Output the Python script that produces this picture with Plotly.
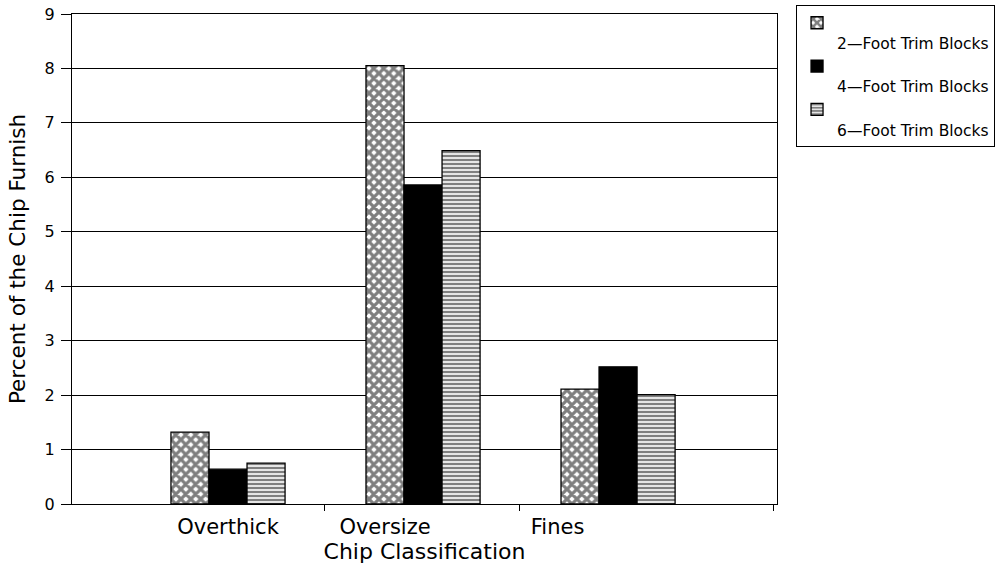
import plotly.graph_objects as go

categories = ["Overthick", "Oversize", "Fines"]
series_names = ["2\u2014Foot Trim Blocks", "4\u2014Foot Trim Blocks", "6\u2014Foot Trim Blocks"]
trim2 = [1.32, 8.05, 2.11]
trim4 = [0.64, 5.86, 2.52]
trim6 = [0.75, 6.49, 2.01]
y_ticks = list(range(0, 10))

x_pos = list(range(len(categories)))
label_pos = [0.0, 0.805, 1.69]

font = "DejaVu Sans"

fig = go.Figure()
styles = [
    dict(color="white", pattern=dict(shape="x", fgcolor="black", bgcolor="white", size=7, solidity=0.7)),
    dict(color="black"),
    dict(color="white", pattern=dict(shape="-", fgcolor="black", bgcolor="white", size=4, solidity=0.6)),
]
for name, vals, st in zip(series_names, [trim2, trim4, trim6], styles):
    fig.add_trace(go.Bar(
        x=x_pos, y=vals, name="<br>" + name,
        marker=dict(line=dict(color="black", width=1.3), **st),
    ))

fig.update_layout(
    width=998, height=567,
    barmode="group", bargap=0.415, bargroupgap=0,
    plot_bgcolor="white", paper_bgcolor="white",
    margin=dict(l=72, r=221, t=14, b=63, autoexpand=False),
    font=dict(family=font, size=16, color="black"),
    showlegend=True,
    legend=dict(
        x=1.027, y=1.018, xanchor="left", yanchor="top",
        bordercolor="black", borderwidth=1, bgcolor="white",
        font=dict(family=font, size=15.5, color="black"),
        valign="top", tracegroupgap=0, itemwidth=30,
    ),
    xaxis=dict(
        range=[-0.8, 2.815], automargin=False,
        tickvals=label_pos, ticktext=categories, ticks="",
        ticklabelstandoff=4,
        showline=True, linecolor="black", linewidth=1.2, mirror=True,
        showgrid=False, zeroline=False,
        minor=dict(tickvals=[0.497, 1.497, 2.795], ticks="outside", ticklen=6,
                   tickcolor="black", tickwidth=1, showgrid=False),
        title=dict(text="Chip Classification", font=dict(family=font, size=22), standoff=4),
        tickfont=dict(family=font, size=21),
    ),
    yaxis=dict(
        range=[0, 9], tickvals=y_ticks, automargin=False,
        ticks="outside", ticklen=10, tickcolor="black", ticklabelstandoff=3,
        showline=True, linecolor="black", linewidth=1.2, mirror=True,
        showgrid=True, gridcolor="black", gridwidth=1.2, zeroline=False,
        title=dict(text="Percent of the Chip Furnish", font=dict(family=font, size=21.5), standoff=12),
        tickfont=dict(family=font, size=16),
    ),
)

fig.write_html("out.html", config={"displayModeBar": False},
               post_script="document.body.style.margin='0';document.body.style.padding='0';")
